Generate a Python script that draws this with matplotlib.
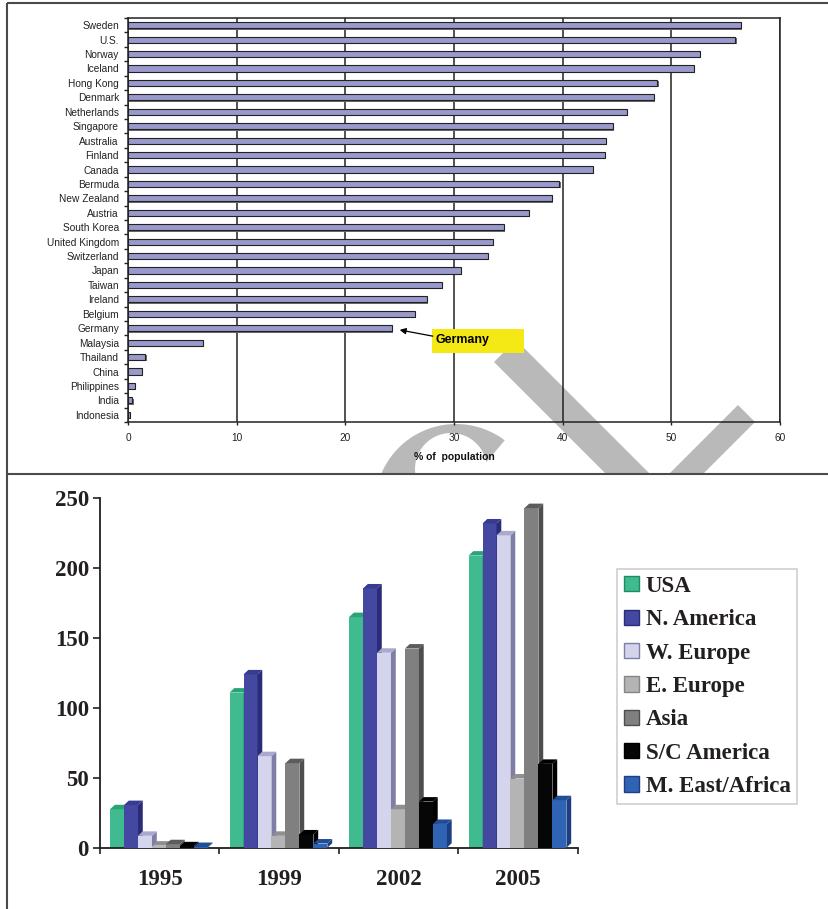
import matplotlib
matplotlib.use('Agg')
import matplotlib.pyplot as plt
from matplotlib.patches import Polygon, Rectangle, Patch
from matplotlib import transforms
import numpy as np

# --- top panel: share of population, by country ---
countries = ['Sweden', 'U.S.', 'Norway', 'Iceland', 'Hong Kong', 'Denmark',
             'Netherlands', 'Singapore', 'Australia', 'Finland', 'Canada',
             'Bermuda', 'New Zealand', 'Austria', 'South Korea', 'United Kingdom',
             'Switzerland', 'Japan', 'Taiwan', 'Ireland', 'Belgium', 'Germany',
             'Malaysia', 'Thailand', 'China', 'Philippines', 'India', 'Indonesia']
pct_population = [56.4, 55.9, 52.6, 52.1, 48.7, 48.4, 45.9, 44.6, 44.0, 43.9,
                  42.8, 39.7, 39.0, 36.9, 34.6, 33.6, 33.1, 30.6, 28.9, 27.5,
                  26.4, 24.3, 6.9, 1.6, 1.3, 0.6, 0.4, 0.2]
x_ticks_top = [0, 10, 20, 30, 40, 50, 60]

# --- bottom panel: by region and year ---
years = ['1995', '1999', '2002', '2005']
regions = ['USA', 'N. America', 'W. Europe', 'E. Europe', 'Asia',
           'S/C America', 'M. East/Africa']
usa = [27.5, 111, 165, 209]
n_america = [30.5, 124, 185.5, 232]
w_europe = [8.5, 65.5, 139.5, 223.5]
e_europe = [1.5, 8.5, 27.5, 49.5]
asia = [2.5, 60.5, 142.5, 243]
sc_america = [1, 9.5, 33, 60]
me_africa = [0.5, 3, 17, 34]
region_values = [usa, n_america, w_europe, e_europe, asia, sc_america, me_africa]
y_ticks_bottom = [0, 50, 100, 150, 200, 250]

# front / top / side colours of the 3d columns
face_cols = ['#40bb90', '#4448a0', '#d4d4ec', '#b4b4b4', '#808080', '#060606', '#2f64b5']
top_cols = ['#2aa477', '#383b92', '#a9a9cf', '#8f8f8f', '#5c5c5c', '#000000', '#214d98']
side_cols = ['#1f8a62', '#2a2c78', '#7f7fa6', '#868686', '#4e4e4e', '#000000', '#1b3f82']

W, H = 829, 909
fig = plt.figure(figsize=(W / 100, H / 100), dpi=100)


def px_rect(x0, y0, x1, y1):
    # pixel box measured from top-left -> add_axes rectangle
    return [x0 / W, 1 - y1 / H, (x1 - x0) / W, (y1 - y0) / H]


# background layer: frame lines and the grey watermark strokes
bg = fig.add_axes([0, 0, 1, 1], zorder=0)
bg.set_xlim(0, W)
bg.set_ylim(H, 0)
bg.axis('off')

wm = '#b9b9b9'
clip_upper = Rectangle((0, 0), W, 473, transform=bg.transData)
clip_arc = Rectangle((0, 423), W, 50, transform=bg.transData)
band1 = Polygon([(494, 362), (516, 340), (656, 480), (634, 502)], closed=True, fc=wm, ec='none')
band2 = Polygon([(738, 405), (755, 422), (655, 522), (638, 505)], closed=True, fc=wm, ec='none')
for p in (band1, band2):
    bg.add_patch(p)
    p.set_clip_path(clip_upper)

a_out = np.radians(np.linspace(53, 190, 60))
a_in = np.radians(np.linspace(200, 11, 60))
arc_pts = np.vstack([
    np.column_stack([456 + 81 * np.cos(a_out), 505 - 81 * np.sin(a_out)]),
    np.column_stack([451 + 36 * np.cos(a_in), 469 - 36 * np.sin(a_in)]),
])
arc = Polygon(arc_pts, closed=True, fc=wm, ec='none')
bg.add_patch(arc)
arc.set_clip_path(clip_arc)

frame_kw = dict(color='#4a4a4a', lw=1.5, solid_capstyle='butt')
bg.plot([7, 7], [3, H], **frame_kw)
bg.plot([7, W], [3, 3], **frame_kw)
bg.plot([7, W], [473.5, 473.5], **frame_kw)

# ---------------- top chart ----------------
ax1 = fig.add_axes(px_rect(128, 18, 780, 422), zorder=1)
ax1.patch.set_alpha(0)
ypos = np.arange(len(countries))
shadow = ax1.transData + transforms.ScaledTranslation(1.3 / 100, -1.3 / 100, fig.dpi_scale_trans)
ax1.barh(ypos, pct_population, height=0.42, color='#6a6a6a', transform=shadow, zorder=2)
ax1.barh(ypos, pct_population, height=0.42, color='#9999cc', edgecolor='#222222',
         linewidth=0.8, zorder=3)
ax1.set_xlim(0, 60)
ax1.set_ylim(len(countries) - 0.5, -0.5)
ax1.set_xticks(x_ticks_top)
ax1.set_yticks(ypos, countries)
ax1.set_yticks(np.arange(-0.5, len(countries)), minor=True)
ax1.set_axisbelow(True)
ax1.grid(axis='x', color='#222222', lw=1.1)
for s in ax1.spines.values():
    s.set_color('#222222')
    s.set_linewidth(1.1)
ax1.tick_params(axis='y', which='major', length=0, pad=6.5, labelsize=7.3, labelcolor='#222222')
ax1.tick_params(axis='y', which='minor', length=3, width=1, color='#222222')
ax1.tick_params(axis='x', length=2.5, width=1, pad=5.5, labelsize=7.3,
                labelcolor='#222222', color='#222222')
for lbl in ax1.get_xticklabels() + ax1.get_yticklabels():
    lbl.set_family('Liberation Sans')
ax1.set_xlabel('% of  population', fontsize=7.5, fontweight='bold',
               family='Liberation Sans', labelpad=6.5, color='#111111')

gi = countries.index('Germany')
ax1.add_patch(Rectangle((28.0, gi + 0.05), 8.45, 1.67, fc='#f4e914', ec='none', zorder=4))
ax1.text(28.3, gi + 0.8, 'Germany', fontsize=8.9, fontweight='bold',
         family='Liberation Sans', va='center', ha='left', zorder=5)
ax1.annotate('', xy=(pct_population[gi] + 0.7, gi + 0.12), xytext=(28.05, gi + 0.55),
             arrowprops=dict(arrowstyle='-|>', color='black', lw=0.9, mutation_scale=9,
                             shrinkA=0, shrinkB=0), zorder=5)

# ---------------- bottom chart ----------------
ax2 = fig.add_axes(px_rect(100, 498.3, 578, 847.7), zorder=1)
ax2.patch.set_alpha(0)
ax2.set_xlim(0, 4)
ax2.set_ylim(0, 250)

group_off, bw, dx, dy = 0.084, 0.117, 0.040, 3.2
for k, vals in enumerate(region_values):
    xs = np.arange(len(years)) + group_off + k * bw
    z = 2 + k
    ax2.bar(xs, vals, width=bw, align='edge', color=face_cols[k], linewidth=0, zorder=z)
    for x0, v in zip(xs, vals):
        side = Polygon([(x0 + bw, 0), (x0 + bw + dx, dy), (x0 + bw + dx, v + dy), (x0 + bw, v)],
                       closed=True, fc=side_cols[k], ec='none', zorder=z, clip_on=False)
        top = Polygon([(x0, v), (x0 + dx, v + dy), (x0 + bw + dx, v + dy), (x0 + bw, v)],
                      closed=True, fc=top_cols[k], ec='none', zorder=z, clip_on=False)
        ax2.add_patch(side)
        ax2.add_patch(top)

for s in ('top', 'right'):
    ax2.spines[s].set_visible(False)
for s in ('left', 'bottom'):
    ax2.spines[s].set_color('#231f20')
    ax2.spines[s].set_linewidth(1.3)
ax2.set_yticks(y_ticks_bottom)
ax2.set_xticks(range(len(years) + 1))
ax2.set_xticks(np.arange(len(years)) + 0.5, years, minor=True)
ax2.tick_params(axis='y', length=5, width=1.2, pad=3, labelsize=16.5,
                labelcolor='#231f20', color='#231f20')
ax2.tick_params(axis='x', which='major', length=4.5, width=1.2, labelbottom=False, color='#231f20')
ax2.tick_params(axis='x', which='minor', length=0, pad=15, labelsize=16.5, labelcolor='#231f20')
for lbl in ax2.get_yticklabels() + ax2.get_xticklabels(minor=True):
    lbl.set_family('Liberation Serif')
    lbl.set_fontweight('bold')

handles = [Patch(facecolor=face_cols[k], edgecolor=side_cols[k], linewidth=1) for k in range(len(regions))]
leg = fig.legend(handles, regions, loc='upper left', bbox_to_anchor=(617 / W, 1 - 569 / H),
                 prop=dict(family='Liberation Serif', weight='bold', size=16.5),
                 frameon=True, fancybox=False, edgecolor='#cfcfcf', framealpha=1,
                 borderpad=0.3, handlelength=0.65, handleheight=0.65,
                 handletextpad=0.3, labelspacing=0.54, borderaxespad=0)
leg.get_frame().set_linewidth(1.2)
for t in leg.get_texts():
    t.set_color('#231f20')

fig.savefig('out.png', dpi=100)
